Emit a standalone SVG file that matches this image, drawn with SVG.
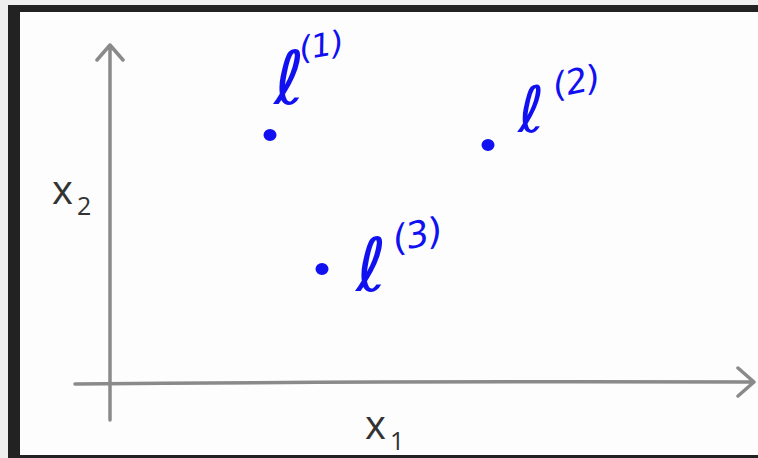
<svg xmlns="http://www.w3.org/2000/svg" width="758" height="458" viewBox="0 0 758 458">
<style>
.axis{stroke:#8a8a8a;stroke-width:3.5;fill:none;stroke-linecap:round;stroke-linejoin:round}
.lbl{font-family:"Open Sans","Liberation Sans",sans-serif;fill:#333}
.hw{font-family:"DejaVu Sans","Liberation Sans",sans-serif;fill:#1010f0;font-style:italic}
.pt{fill:#1010f0}
</style>
<rect width="758" height="458" fill="#fdfdfd"/>
<rect x="0" y="0" width="758" height="5" fill="#efefef"/>
<rect x="0" y="0" width="8" height="458" fill="#efefef"/>
<rect x="8" y="5" width="750" height="7" fill="#222"/>
<rect x="8" y="5" width="12" height="453" fill="#222"/>
<rect x="8" y="455" width="750" height="3" fill="#222"/>
<g id="connectors">
<path class="axis" d="M110 420 L110 45 M97 60 L110 45 L123 60"/>
<path class="axis" d="M75 384 Q400 381 754 382 M738 368 L754 382 L738 396"/>
</g>
<g id="x2"><text class="lbl" x="52" y="204" font-size="40">x</text><text class="lbl" x="77" y="215" font-size="25">2</text></g>
<g id="x1"><text class="lbl" x="365" y="439" font-size="40">x</text><text class="lbl" x="390" y="450" font-size="25">1</text></g>
<g id="p1"><ellipse class="pt" cx="270" cy="135" rx="6.5" ry="6"/><text class="hw" x="274" y="104" font-size="74">ℓ</text><text class="hw" x="299" y="58" font-size="32" transform="rotate(-10 312 48)">(1)</text></g>
<g id="p2"><ellipse class="pt" cx="488" cy="145" rx="6.5" ry="6"/><text class="hw" x="518" y="132" font-size="64">ℓ</text><text class="hw" x="552" y="94" font-size="34" transform="rotate(-12 572 80)">(2)</text></g>
<g id="p3"><ellipse class="pt" cx="322" cy="269" rx="6.5" ry="6"/><text class="hw" x="356" y="291" font-size="74">ℓ</text><text class="hw" x="392" y="248" font-size="36" transform="rotate(-12 412 234)">(3)</text></g>
</svg>
